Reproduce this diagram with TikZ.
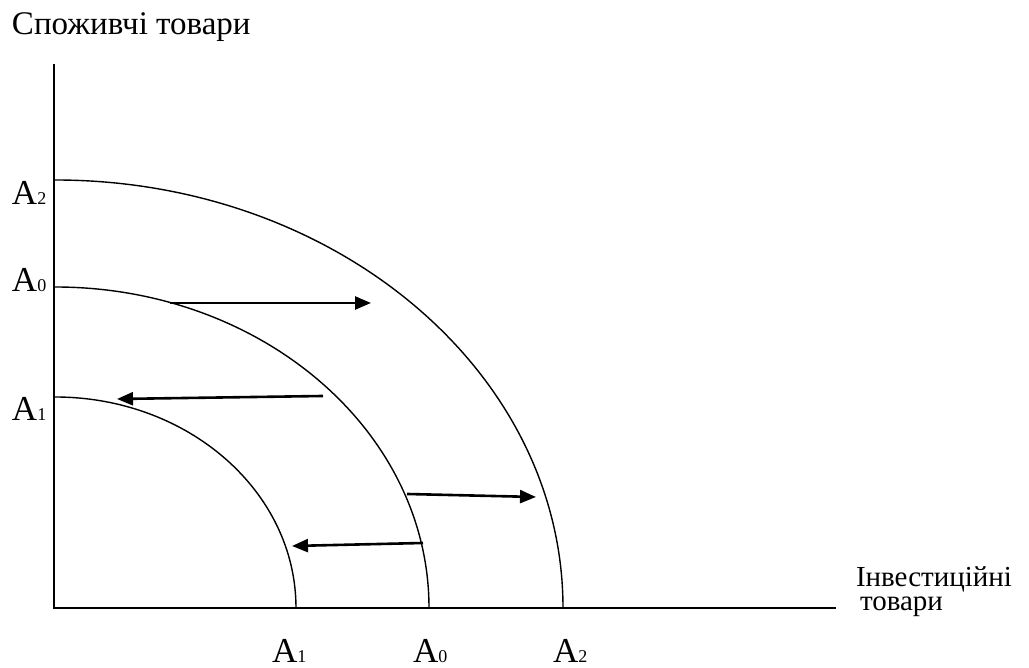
\documentclass[tikz,border=0pt]{standalone}
\usepackage{fontspec}
\setmainfont{Liberation Serif}
\usetikzlibrary{arrows.meta}
\begin{document}
\begin{tikzpicture}[x=1pt,y=1pt,
  axis/.style={line width=1.6pt},
  curve/.style={line width=1.4pt},
  movearrow/.style={line width=2.6pt,-{Triangle[length=16pt,width=13pt]}},
  lbl/.style={anchor=base west,inner sep=0pt,outer sep=0pt},
  big/.style={font=\fontsize{33}{38}\selectfont},
  mid/.style={font=\fontsize{29}{34}\selectfont}]
\useasboundingbox (0,0) rectangle (1029,668);
% axes
\coordinate (O) at (54,60);
\coordinate (ytop) at (54,604);
\coordinate (xend) at (836,60);
\draw[axis] (ytop) -- (O) -- (xend);
% curves
\coordinate (a2y) at (55,488);
\coordinate (a0y) at (55,381);
\coordinate (a1y) at (55,271);
\draw[curve] (a2y) arc[start angle=90,end angle=0,x radius=508,y radius=428];
\draw[curve] (a0y) arc[start angle=90,end angle=0,x radius=374,y radius=321];
\draw[curve] (a1y) arc[start angle=90,end angle=0,x radius=241,y radius=211];
% arrows
\coordinate (s1) at (170,365); \coordinate (e1) at (371,365);
\coordinate (s2) at (323,272); \coordinate (e2) at (117,269);
\coordinate (s3) at (407,174); \coordinate (e3) at (536,171);
\coordinate (s4) at (423,125); \coordinate (e4) at (292,122);
\draw[movearrow] (s1) -- (e1);
\draw[movearrow] (s2) -- (e2);
\draw[movearrow] (s3) -- (e3);
\draw[movearrow] (s4) -- (e4);
% labels
\newcommand{\Alab}[1]{{\fontsize{35}{40}\selectfont A}{\fontsize{18}{22}\selectfont #1}}
\node[lbl,big] (ylab) at (12,633) {Споживчі товари};
\node[lbl,mid] (xlab1) at (856,81) {Інвестиційні};
\node[lbl,mid] (xlab2) at (860,57) {товари};
\node[lbl] (lA2) at (12,463) {\Alab{2}};
\node[lbl] (lA0) at (12,376) {\Alab{0}};
\node[lbl] (lA1) at (12,247) {\Alab{1}};
\node[lbl] (bA1) at (272,5) {\Alab{1}};
\node[lbl] (bA0) at (413,5) {\Alab{0}};
\node[lbl] (bA2) at (553,5) {\Alab{2}};
\end{tikzpicture}
\end{document}
